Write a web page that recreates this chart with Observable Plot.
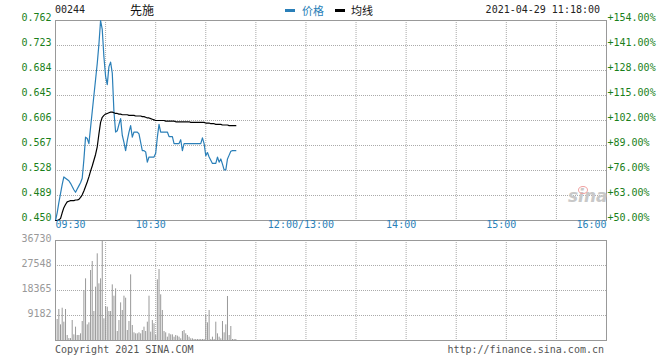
<!DOCTYPE html>
<html>
<head>
<meta charset="utf-8">
<script src="https://cdn.jsdelivr.net/npm/d3@7"></script>
<script src="https://cdn.jsdelivr.net/npm/@observablehq/plot@0.6"></script>
<style>
  html, body { margin: 0; padding: 0; background: #fff; }
  #wrap { position: relative; width: 660px; height: 360px; font-family: "DejaVu Sans Mono", monospace; overflow: hidden; }
  .abs { position: absolute; white-space: nowrap; line-height: 12px; }
  .cjk { font-family: "Noto Sans CJK SC", sans-serif; }
</style>
</head>
<body>
<div id="wrap">
  <div id="price" class="abs" style="left:0;top:0;line-height:0"></div>
  <div id="vol" class="abs" style="left:0;top:232px;line-height:0"></div>
  <div class="abs" style="left:55px;top:4px;font-size:10px;color:#222;">00244</div>
  <div class="abs cjk" style="left:130px;top:3px;font-size:12px;line-height:14px;color:#111;">先施</div>
  <div class="abs" style="left:285px;top:9px;width:10px;height:3px;background:#2a7fb8;"></div>
  <div class="abs cjk" style="left:302px;top:3px;font-size:11px;line-height:14px;color:#2a7fb8;">价格</div>
  <div class="abs" style="left:335px;top:9px;width:10px;height:3px;background:#000;"></div>
  <div class="abs cjk" style="left:351px;top:3px;font-size:11px;line-height:14px;color:#111;">均线</div>
  <div class="abs" style="right:60px;top:4px;font-size:10px;color:#222;">2021-04-29 11:18:00</div>
  <div class="abs" style="left:568px;top:190px;font-size:17px;font-weight:bold;font-style:italic;color:#c8c8c8;font-family:'DejaVu Sans',sans-serif;">sina</div>
  <div class="abs" style="left:578px;top:186px;width:8px;height:6px;border-radius:50%;border:1px solid #f0a0a0;"></div>
  <div class="abs" style="left:55px;top:344px;font-size:10px;color:#555;">Copyright 2021 SINA.COM</div>
  <div class="abs" style="right:56px;top:344px;font-size:10px;color:#555;">http://finance.sina.com.cn</div>
</div>
<script>
// ---- data (one value per minute from 09:30) ----
const prevClose = 0.300;
const priceVals = [
  0.450,0.462,0.478,0.492,0.506,0.518,0.516,0.514,0.512,0.508,
  0.503,0.498,0.494,0.499,0.504,0.509,0.516,0.545,0.580,0.578,
  0.570,0.595,0.620,0.645,0.670,0.695,0.725,0.762,0.748,0.705,
  0.675,0.662,0.690,0.697,0.680,0.620,0.588,0.590,0.600,0.609,
  0.583,0.572,0.559,0.575,0.588,0.598,0.580,0.588,0.588,0.588,
  0.585,0.572,0.559,0.559,0.557,0.541,0.549,0.549,0.549,0.549,
  0.555,0.580,0.600,0.588,0.588,0.588,0.588,0.588,0.581,0.581,
  0.581,0.570,0.570,0.570,0.570,0.576,0.559,0.570,0.570,0.570,
  0.570,0.570,0.570,0.570,0.570,0.570,0.570,0.570,0.579,0.570,
  0.551,0.556,0.549,0.544,0.539,0.539,0.539,0.549,0.541,0.546,
  0.538,0.529,0.529,0.546,0.552,0.558,0.559,0.559,0.559
];
const avgVals = [
  0.450,0.450,0.451,0.453,0.462,0.470,0.475,0.479,0.480,0.481,
  0.481,0.481,0.482,0.482,0.483,0.486,0.490,0.496,0.503,0.510,
  0.518,0.527,0.535,0.544,0.553,0.565,0.585,0.603,0.611,0.614,
  0.616,0.617,0.618,0.619,0.619,0.618,0.617,0.617,0.616,0.616,
  0.615,0.615,0.615,0.615,0.614,0.614,0.614,0.614,0.613,0.613,
  0.613,0.613,0.612,0.612,0.611,0.610,0.610,0.609,0.608,0.607,
  0.606,0.606,0.606,0.606,0.606,0.606,0.605,0.605,0.605,0.605,
  0.605,0.605,0.604,0.604,0.604,0.604,0.604,0.604,0.604,0.604,
  0.604,0.603,0.603,0.603,0.603,0.603,0.603,0.603,0.603,0.603,
  0.602,0.602,0.602,0.601,0.601,0.601,0.600,0.600,0.600,0.600,
  0.599,0.599,0.599,0.599,0.598,0.598,0.598,0.598,0.598
];
const volVals = [
  1500,7710,11390,5750,11860,6730,11390,1840,700,700,
  7350,2080,4900,1840,1840,2450,6980,18365,22650,5750,
  6490,25710,29020,10650,19590,31830,20810,22650,36730,7960,
  12480,12240,10650,10650,20440,16280,18970,3300,7340,13830,
  11020,16280,15540,3670,6980,24110,5510,2820,2450,2450,
  2820,2450,3670,4900,3300,6730,16280,3060,7340,6120,
  1840,22280,26070,16770,11020,3300,2820,1220,2450,2080,
  2080,1220,1840,1590,1220,610,3300,3670,2450,1840,
  1220,610,610,370,370,370,370,370,370,370,
  9430,6490,11020,370,1220,370,6730,2450,1220,610,
  6980,2820,5750,16160,1840,5140,370,370,370
];
const priceTicks = [0.450,0.489,0.528,0.567,0.606,0.645,0.684,0.723,0.762];
const volTicks = [9182,18365,27548,36730];
const timeLabels = ["09:30","10:30","12:00/13:00","14:00","15:00","16:00"];
const gridTimes = ["10:00","10:30","11:00","11:30","12:00","13:30","14:00","14:30","15:00","15:30"];

// minutes since 09:30, skipping the 12:00-13:00 lunch break
function toIndex(t) {
  const [h, m] = t.split("/")[0].split(":").map(Number);
  const mins = h * 60 + m - (9 * 60 + 30);
  return h >= 13 ? mins - 60 : mins;
}

const rows = priceVals.map((p, i) => ({i, p, a: avgVals[i], v: volVals[i]}));
const gridX = gridTimes.map(toIndex);

const green = "#1a7f1a";
const blue = "#2a7fb8";
const gridStyle = {stroke: "#aaa", strokeDasharray: "1,1", strokeWidth: 1};
const font = {fontFamily: "DejaVu Sans Mono, monospace", fontSize: "10px", background: "none", overflow: "visible"};

const xDomain = [0, toIndex("16:00")];

const pricePlot = Plot.plot({
  width: 660, height: 232,
  marginLeft: 55, marginRight: 54, marginTop: 20, marginBottom: 12,
  x: {domain: xDomain, axis: null},
  y: {domain: [priceTicks[0], priceTicks[priceTicks.length - 1]], axis: null},
  style: font,
  marks: [
    Plot.ruleY(priceTicks.slice(1, -1), gridStyle),
    Plot.ruleX(gridX, gridStyle),
    Plot.frame({stroke: "#999", strokeWidth: 1}),
    Plot.line(rows, {x: "i", y: "p", stroke: blue, strokeWidth: 1.2}),
    Plot.line(rows, {x: "i", y: "a", stroke: "#000", strokeWidth: 1.2}),
    Plot.text(priceTicks, {y: d => d, frameAnchor: "left", textAnchor: "end", dx: -4, dy: -3,
      text: d => d.toFixed(3), fill: green}),
    Plot.text(priceTicks, {y: d => d, frameAnchor: "right", textAnchor: "start", dx: 1, dy: -3,
      text: d => "+" + ((d / prevClose - 1) * 100).toFixed(2) + "%", fill: green}),
    Plot.text(timeLabels.slice(0, 1), {x: toIndex, frameAnchor: "bottom", dy: 7, textAnchor: "start", fill: blue}),
    Plot.text(timeLabels.slice(1, -1), {x: toIndex, frameAnchor: "bottom", dy: 7, dx: -5, textAnchor: "middle", fill: blue}),
    Plot.text(timeLabels.slice(-1), {x: toIndex, frameAnchor: "bottom", dy: 7, textAnchor: "end", fill: blue})
  ]
});
document.getElementById("price").appendChild(pricePlot);

const volPlot = Plot.plot({
  width: 660, height: 128,
  marginLeft: 55, marginRight: 54, marginTop: 8, marginBottom: 20,
  x: {domain: xDomain, axis: null},
  y: {domain: [0, volTicks[volTicks.length - 1]], axis: null},
  style: font,
  marks: [
    Plot.ruleY(volTicks.slice(0, -1), gridStyle),
    Plot.ruleX(gridX, gridStyle),
    Plot.ruleX(rows, {x: "i", y1: () => 0, y2: "v", stroke: "#999", strokeWidth: 1}),
    Plot.frame({stroke: "#999", strokeWidth: 1}),
    Plot.text(volTicks, {y: d => d, frameAnchor: "left", textAnchor: "end", dx: -4, dy: -2,
      text: d => String(d), fill: "#999"})
  ]
});
document.getElementById("vol").appendChild(volPlot);
</script>
</body>
</html>
